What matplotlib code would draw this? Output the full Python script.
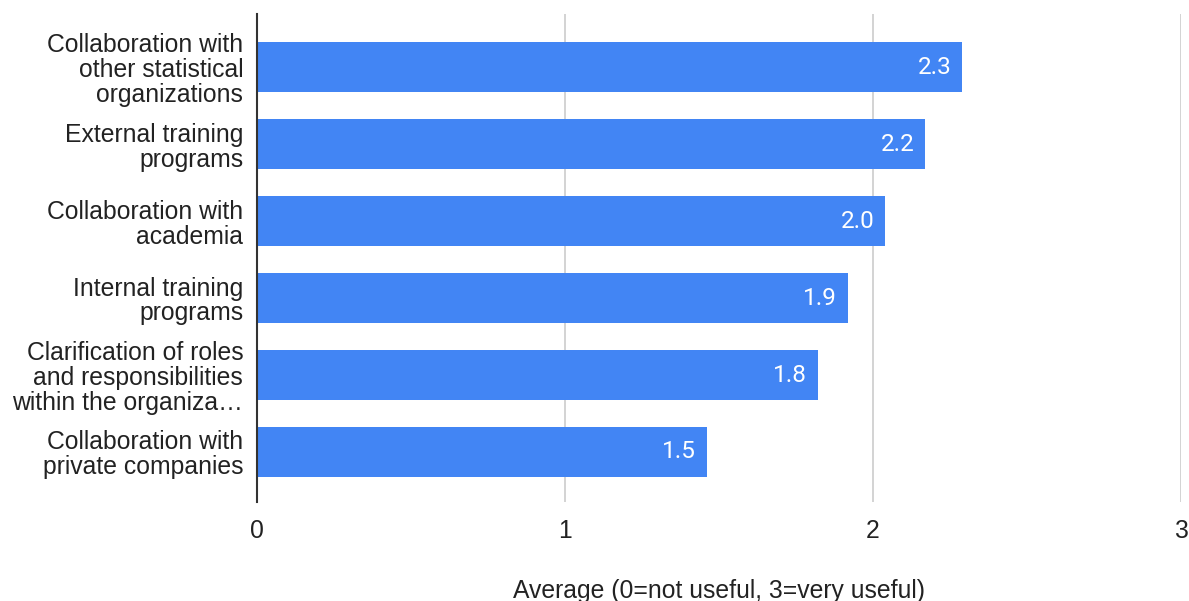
import matplotlib.pyplot as plt

plt.rcParams['font.family'] = ['Liberation Sans', 'DejaVu Sans']

categories = [
    "Collaboration with\nother statistical\norganizations",
    "External training\nprograms",
    "Collaboration with\nacademia",
    "Internal training\nprograms",
    "Clarification of roles\nand responsibilities\nwithin the organiza…",
    "Collaboration with\nprivate companies",
]
averages = [2.29, 2.17, 2.04, 1.92, 1.82, 1.46]
x_ticks = [0, 1, 2, 3]
x_title = "Average (0=not useful, 3=very useful)"

bar_color = "#4285F4"
text_color = "#222222"

fig = plt.figure(figsize=(11.89, 6.01), dpi=100)
ax = fig.add_axes([0.2162, 0.1647, 0.7771, 0.812])

ypos = list(range(len(categories)))
bars = ax.barh(ypos, averages, height=0.64, color=bar_color, zorder=3)

for y, v in zip(ypos, averages):
    ax.annotate(f"{v:.1f}", xy=(v, y), xytext=(-8, 0), textcoords="offset points",
                ha="right", va="center", color="white", fontsize=17.5,
                family=["Roboto", "DejaVu Sans"], zorder=4)

ax.set_xlim(0, 3)
ax.set_ylim(5.65, -0.69)
ax.set_yticks(ypos)
ax.set_yticklabels(categories, fontsize=17.8, color=text_color, linespacing=1.05)
ax.set_xticks(x_ticks)
ax.set_xticklabels([str(t) for t in x_ticks], fontsize=17.8, color=text_color)
ax.tick_params(axis="both", length=0)
ax.tick_params(axis="y", pad=10)
ax.tick_params(axis="x", pad=12)

ax.grid(axis="x", color="#cccccc", linewidth=1.2, zorder=0)
for s in ["top", "right", "bottom"]:
    ax.spines[s].set_visible(False)
ax.spines["left"].set_color("#333333")
ax.spines["left"].set_linewidth(1.5)
ax.spines["left"].set_zorder(5)

ax.set_xlabel(x_title, fontsize=17.8, color=text_color, labelpad=26)

fig.savefig("out.png", dpi=100)
